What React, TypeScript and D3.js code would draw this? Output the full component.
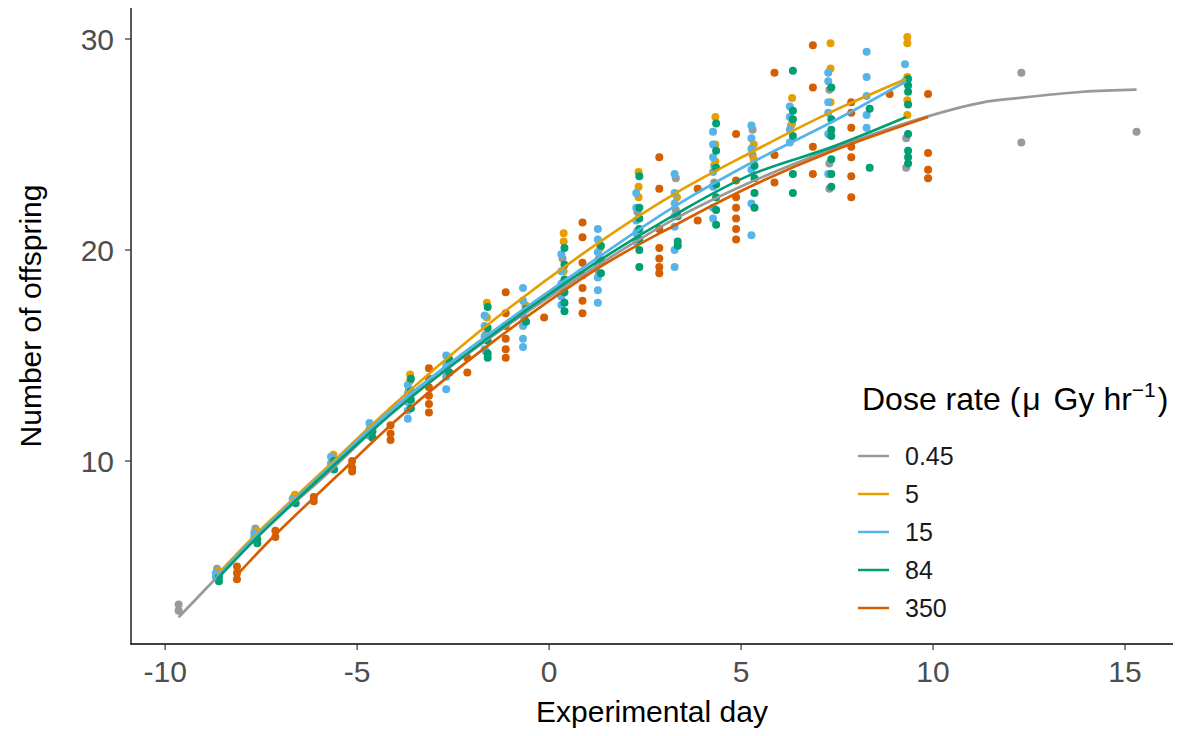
import React from "react";
import * as d3 from "d3";

// ---------- data ----------
const doseLabels = ["0.45", "5", "15", "84", "350"];
const palette = ["#999999", "#E69F00", "#56B4E9", "#009E73", "#D55E00"];
const xTicks = [-10, -5, 0, 5, 10, 15];
const yTicks = [10, 20, 30];

// observed offspring counts: [experimental day, values]
const obs045: [number, number[]][] = [
  [-9.65, [3.2, 2.9]],
  [-8.65, [4.9, 4.6]],
  [-7.65, [6.8, 6.6]],
  [-6.65, [8.3]],
  [-5.65, [10.1]],
  [-4.65, [11.5]],
  [-3.65, [13.4, 12.9]],
  [-2.65, [14.6, 14.3]],
  [-1.65, [16.0, 15.2]],
  [-0.65, [16.8]],
  [0.35, [19.6, 18.2]],
  [1.3, [19.6, 18.9]],
  [2.3, [21.8, 20.9]],
  [3.3, [23.4, 21.9]],
  [4.3, [24.0, 23.2]],
  [5.3, [25.7, 24.5]],
  [6.3, [25.9]],
  [7.3, [27.6, 24.1, 22.9]],
  [9.3, [25.3, 23.9]],
  [12.3, [28.4, 25.1]],
  [15.3, [25.6]],
];

const obs5: [number, number[]][] = [
  [-8.62, [4.8, 4.6]],
  [-7.62, [6.7]],
  [-6.62, [8.4]],
  [-5.62, [10.3, 10.0]],
  [-4.62, [11.6]],
  [-3.62, [14.1, 13.8]],
  [-2.62, [14.9]],
  [-1.62, [17.5, 16.8]],
  [-0.62, [17.4]],
  [0.38, [20.8, 20.4, 19.0]],
  [1.33, [20.1]],
  [2.33, [23.7, 23.0, 22.5]],
  [3.33, [22.5]],
  [4.33, [26.3, 25.0, 24.2]],
  [5.33, [25.0, 24.3]],
  [6.33, [27.2, 26.0]],
  [7.33, [29.8, 28.6, 27.0]],
  [9.33, [30.1, 29.8, 28.2, 27.1, 26.4]],
];

const obs15: [number, number[]][] = [
  [-8.68, [4.7, 4.5]],
  [-7.68, [6.6, 6.4]],
  [-6.68, [8.2]],
  [-5.68, [10.2, 9.9, 9.7]],
  [-4.68, [11.8, 11.5, 11.2]],
  [-3.68, [13.6, 13.2, 12.8, 12.4, 12.0]],
  [-2.68, [15.0, 14.5, 14.0, 13.4]],
  [-1.68, [16.9, 16.4, 15.9, 15.3]],
  [-0.68, [18.2, 17.6, 17.0, 16.4, 15.8, 15.4]],
  [0.32, [19.8, 19.0, 18.4, 17.8, 17.4]],
  [1.27, [21.0, 20.5, 19.9, 19.3, 18.7, 18.1, 17.5]],
  [2.27, [22.7, 22.0, 21.4, 20.8, 20.4]],
  [3.27, [23.6, 22.7, 22.2, 21.6, 21.1, 20.0, 19.2]],
  [4.27, [25.6, 25.0, 24.4, 23.7, 23.0, 22.0, 21.5]],
  [5.27, [25.9, 25.3, 24.8, 23.8, 22.2, 20.7]],
  [6.27, [26.8, 26.3, 25.7, 25.1]],
  [7.27, [28.4, 28.0, 27.0, 26.5, 25.5, 23.6]],
  [8.27, [29.4, 28.2, 27.3, 26.4, 25.8]],
  [9.27, [28.8, 28.0]],
];

const obs84: [number, number[]][] = [
  [-8.6, [4.5, 4.3]],
  [-7.6, [6.3, 6.1]],
  [-6.6, [8.0]],
  [-5.6, [10.0, 9.6]],
  [-4.6, [11.4, 11.1]],
  [-3.6, [13.9, 13.3, 12.9, 12.5]],
  [-2.6, [14.8, 14.2]],
  [-1.6, [17.3, 16.3, 15.7, 15.1, 14.9]],
  [-0.6, [17.2, 16.6]],
  [0.4, [20.1, 19.3, 18.6, 18.0, 17.5, 17.1]],
  [1.35, [20.2, 19.5, 18.9]],
  [2.35, [23.5, 22.0, 21.5, 21.0, 20.5, 20.0, 19.2]],
  [3.35, [21.6, 20.4, 20.2]],
  [4.35, [26.0, 24.7, 23.9, 23.1, 22.5, 21.9, 21.2]],
  [5.35, [24.0, 23.4, 22.7, 22.0]],
  [6.35, [28.5, 26.6, 26.2, 25.4, 23.6, 22.7]],
  [7.35, [27.7, 26.2, 25.7, 25.4, 24.3, 23.6, 23.0]],
  [8.35, [26.7, 23.9]],
  [9.35, [28.1, 27.8, 27.5, 26.9, 25.5, 24.7, 24.4, 24.1]],
];

const obs350: [number, number[]][] = [
  [-8.13, [5.0, 4.7, 4.4]],
  [-7.13, [6.7, 6.4]],
  [-6.13, [8.3, 8.1]],
  [-5.13, [10.0, 9.7, 9.5]],
  [-4.13, [11.7, 11.3, 11.0]],
  [-3.13, [14.4, 13.9, 13.5, 13.1, 12.7, 12.3]],
  [-2.13, [14.9, 14.2]],
  [-1.13, [18.0, 17.0, 16.4, 15.8, 15.3, 14.9]],
  [-0.13, [16.8]],
  [0.87, [21.3, 20.6, 19.4, 18.8, 18.2, 17.6, 17.0]],
  [2.87, [24.4, 22.9, 21.0, 20.1, 19.6, 19.2, 18.9]],
  [3.87, [22.9, 21.4]],
  [4.87, [25.5, 23.3, 22.5, 22.0, 21.5, 21.0, 20.5]],
  [5.87, [28.4, 24.5, 23.2]],
  [6.87, [29.7, 27.7, 24.9, 23.6]],
  [7.87, [27.0, 26.5, 25.8, 24.9, 24.4, 23.5, 22.5]],
  [8.87, [27.4]],
  [9.87, [27.4, 24.6, 23.8, 23.4]],
];

// fitted (smoothed) curves: [day, value]
const fit045: [number, number][] = [
  [-9.65, 2.6], [-8.65, 4.5], [-7.65, 6.4], [-5.9, 9.2], [-3.9, 12.6], [-1.5, 15.9],
  [1.33, 19.35], [3.3, 21.5], [5.23, 23.2], [7.4, 24.8], [9.8, 26.3], [11.3, 27.0],
  [12.2, 27.2], [13.9, 27.5], [15.3, 27.6],
];
const fit5: [number, number][] = [
  [-8.65, 4.6], [-7.65, 6.5], [-5.9, 9.5], [-3.9, 12.9], [-1.5, 16.6], [1.33, 20.4],
  [3.3, 22.7], [5.23, 24.6], [7.3, 26.5], [9.3, 28.1],
];
const fit15: [number, number][] = [
  [-8.65, 4.5], [-7.65, 6.4], [-5.9, 9.4], [-3.9, 12.75], [-1.5, 16.1], [1.4, 19.8],
  [3.3, 22.1], [5.23, 24.1], [7.4, 26.1], [9.3, 28.0],
];
const fit84: [number, number][] = [
  [-8.65, 4.4], [-7.65, 6.3], [-5.9, 9.3], [-3.9, 12.56], [-1.5, 15.95], [1.33, 19.53],
  [3.3, 21.7], [5.23, 23.55], [7.4, 24.9], [9.3, 26.3],
];
const fit350: [number, number][] = [
  [-8.13, 4.6], [-7.19, 6.4], [-5.52, 9.3], [-3.88, 12.1], [-1.5, 15.6], [1.33, 19.2],
  [3.3, 21.2], [5.23, 23.0], [7.4, 24.7], [9.87, 26.3],
];

const observations = [obs045, obs5, obs15, obs84, obs350];
const fits = [fit045, fit5, fit15, fit84, fit350];

const FONT = "'Liberation Sans', Arial, Helvetica, sans-serif";

export default function App() {
  const W = 1181;
  const H = 736;
  const x = d3.scaleLinear().domain([-10.89, 16.25]).range([131, 1173]);
  const y = d3.scaleLinear().domain([1.33, 31.47]).range([644, 8]);
  const line = d3
    .line<[number, number]>()
    .x((d) => x(d[0]))
    .y((d) => y(d[1]))
    .curve(d3.curveCatmullRom.alpha(0.5));

  const [x0, x1] = x.range();
  const [y0, y1] = y.range();

  const legendX = 858;
  const legendY0 = 456;
  const legendStep = 38;

  return (
    <svg
      width={W}
      height={H}
      style={{ position: "absolute", left: 0, top: 0, background: "#fff" }}
      fontFamily={FONT}
    >
      <rect x={0} y={0} width={W} height={H} fill="#fff" />
      {/* points */}
      {observations.map((series, si) => (
        <g key={"p" + si} fill={palette[si]}>
          {series.flatMap(([day, vals], di) =>
            vals.map((v, vi) => (
              <circle key={di + "-" + vi} cx={x(day)} cy={y(v)} r={4} />
            ))
          )}
        </g>
      ))}
      {/* fitted lines */}
      {fits.map((f, si) => (
        <path
          key={"l" + si}
          d={line(f) || ""}
          fill="none"
          stroke={palette[si]}
          strokeWidth={2.7}
        />
      ))}
      {/* axes */}
      <line x1={x0} x2={x0} y1={y1} y2={y0 + 0.5} stroke="#000" strokeWidth={1.3} />
      <line x1={x0 - 0.5} x2={x1} y1={y0} y2={y0} stroke="#000" strokeWidth={1.3} />
      {xTicks.map((t) => (
        <g key={"xt" + t}>
          <line x1={x(t)} x2={x(t)} y1={y0} y2={y0 + 6} stroke="#333" strokeWidth={1.2} />
          <text
            x={x(t)}
            y={682}
            textAnchor="middle"
            fontSize={30}
            fill="#4D4D4D"
          >
            {String(t)}
          </text>
        </g>
      ))}
      {yTicks.map((t) => (
        <g key={"yt" + t}>
          <line x1={x0 - 6} x2={x0} y1={y(t)} y2={y(t)} stroke="#333" strokeWidth={1.2} />
          <text
            x={114}
            y={y(t)}
            dy="0.36em"
            textAnchor="end"
            fontSize={30}
            fill="#4D4D4D"
          >
            {String(t)}
          </text>
        </g>
      ))}
      {/* axis titles */}
      <text x={(x0 + x1) / 2} y={722} textAnchor="middle" fontSize={30} fill="#000">
        Experimental day
      </text>
      <text
        transform={`translate(41, ${(y0 + y1) / 2 - 10}) rotate(-90)`}
        textAnchor="middle"
        fontSize={30}
        fill="#000"
      >
        Number of offspring
      </text>
      {/* legend */}
      <text x={862} y={410} fontSize={32} fill="#000">
        <tspan>Dose rate (</tspan>
        <tspan dx={2}>μ</tspan>
        <tspan dx={4}> Gy hr</tspan>
        <tspan fontSize={21} dy={-13}>−1</tspan>
        <tspan dy={13} dx={2}>)</tspan>
      </text>
      {doseLabels.map((lab, i) => {
        const ly = legendY0 + i * legendStep;
        return (
          <g key={"lg" + i}>
            <line
              x1={legendX}
              x2={legendX + 31}
              y1={ly}
              y2={ly}
              stroke={palette[i]}
              strokeWidth={2.5}
            />
            <text x={905} y={ly + 9} fontSize={25} fill="#1a1a1a">
              {lab}
            </text>
          </g>
        );
      })}
    </svg>
  );
}
